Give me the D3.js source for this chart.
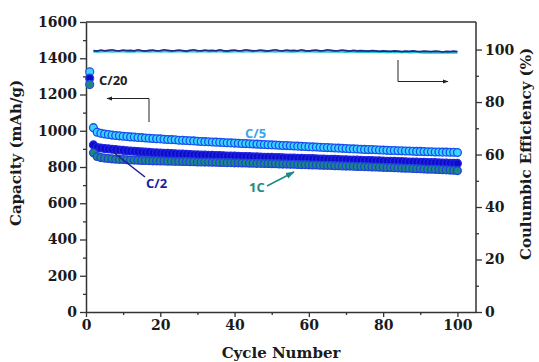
<!DOCTYPE html>
<html>
<head>
<meta charset="utf-8">
<script src="https://cdn.jsdelivr.net/npm/d3@7"></script>
<style>
body { margin: 0; background: #fff; }
.tick text { font-family: "DejaVu Serif", serif; font-weight: bold; }
</style>
</head>
<body>
<script>
// capacity vs cycle number, with coulombic efficiency on a second axis

// C/20 formation cycle (cycle 1), one point per cell
var c20Cycle = 1;
var c20Values = [1325, 1290, 1255];

// capacity (mAh/g) for cycles 2..100
var c5Values = [1017, 992, 986, 982, 979, 976, 974, 972, 970, 968,
    966, 965, 963, 962, 960, 959, 957, 956, 955, 953,
    952, 951, 950, 948, 947, 946, 945, 944, 942, 941,
    940, 939, 938, 937, 936, 935, 934, 933, 932, 931,
    930, 929, 928, 927, 926, 925, 924, 923, 922, 921,
    920, 919, 918, 917, 916, 915, 914, 913, 912, 911,
    910, 909, 908, 907, 906, 905, 904, 903, 902, 901,
    900, 899, 898, 897, 896, 896, 895, 894, 893, 892,
    891, 891, 890, 889, 888, 888, 887, 886, 886, 885,
    884, 884, 883, 883, 882, 882, 881, 881, 880];
var c2Values = [922, 908, 905, 902, 900, 898, 896, 894, 892, 890,
    888, 887, 885, 884, 882, 881, 879, 878, 877, 876,
    875, 874, 873, 872, 871, 870, 869, 868, 867, 866,
    866, 865, 864, 863, 863, 862, 861, 860, 860, 859,
    858, 858, 857, 856, 856, 855, 854, 854, 853, 852,
    852, 851, 850, 850, 849, 848, 848, 847, 846, 846,
    845, 844, 844, 843, 842, 842, 841, 840, 840, 839,
    838, 838, 837, 836, 836, 835, 834, 834, 833, 832,
    832, 831, 830, 830, 829, 828, 828, 827, 826, 826,
    825, 824, 824, 823, 822, 822, 821, 820, 820];
var c1Values = [878, 858, 852, 849, 847, 845, 843, 842, 841, 840,
    839, 838, 837, 836, 836, 835, 834, 834, 833, 833,
    832, 832, 831, 831, 830, 830, 829, 829, 828, 828,
    827, 827, 826, 826, 825, 825, 824, 824, 823, 823,
    822, 822, 821, 821, 820, 820, 819, 819, 818, 818,
    817, 816, 816, 815, 815, 814, 813, 813, 812, 811,
    811, 810, 809, 809, 808, 807, 807, 806, 805, 805,
    804, 803, 803, 802, 801, 800, 800, 799, 798, 797,
    797, 796, 795, 794, 793, 793, 792, 791, 790, 789,
    788, 788, 787, 786, 785, 784, 783, 782, 780];

// coulombic efficiency (%) for cycles 2..100
var ceDark = [99.6, 99.4, 99.8, 99.5, 99.7, 99.9, 99.6, 99.5, 99.8, 99.6,
    99.7, 99.5, 99.9, 99.6, 99.4, 99.7, 99.8, 99.5, 99.6, 99.9,
    99.7, 99.5, 99.6, 99.8, 99.6, 99.4, 99.7, 99.9, 99.6, 99.5,
    99.8, 99.6, 99.7, 99.5, 99.9, 99.6, 99.4, 99.7, 99.8, 99.5,
    99.6, 99.9, 99.7, 99.5, 99.6, 99.8, 99.6, 99.4, 99.7, 99.9,
    99.6, 99.5, 99.8, 99.6, 99.7, 99.5, 99.9, 99.6, 99.4, 99.7,
    99.8, 99.5, 99.6, 99.9, 99.7, 99.5, 99.6, 99.8, 99.6, 99.4,
    99.7, 99.5, 99.6, 99.5, 99.4, 99.6, 99.5, 99.3, 99.5, 99.4,
    99.3, 99.5, 99.4, 99.2, 99.4, 99.3, 99.5, 99.3, 99.2, 99.4,
    99.3, 99.2, 99.4, 99.3, 99.1, 99.3, 99.2, 99.4, 99.2];
var ceLight = [99.2, 99.3, 99.2, 99.4, 99.3, 99.2, 99.3, 99.4, 99.3, 99.2,
    99.3, 99.2, 99.4, 99.3, 99.3, 99.2, 99.3, 99.4, 99.2, 99.3,
    99.3, 99.2, 99.3, 99.4, 99.3, 99.2, 99.3, 99.3, 99.2, 99.4,
    99.3, 99.2, 99.3, 99.3, 99.4, 99.2, 99.3, 99.2, 99.3, 99.4,
    99.2, 99.3, 99.3, 99.2, 99.4, 99.3, 99.2, 99.3, 99.3, 99.2,
    99.3, 99.4, 99.2, 99.3, 99.2, 99.3, 99.3, 99.2, 99.4, 99.3,
    99.2, 99.3, 99.2, 99.3, 99.2, 99.2, 99.3, 99.2, 99.1, 99.2,
    99.2, 99.1, 99.2, 99.1, 99.2, 99.1, 99.1, 99.2, 99.1, 99.0,
    99.1, 99.0, 99.1, 99.0, 99.1, 99.0, 99.0, 99.1, 99.0, 98.9,
    99.0, 98.9, 99.0, 98.9, 99.0, 98.9, 98.9, 99.0, 98.9];

var xTicks = [0, 20, 40, 60, 80, 100];
var yTicks = [0, 200, 400, 600, 800, 1000, 1200, 1400, 1600];
var ceTicks = [0, 20, 40, 60, 80, 100];

var width = 539,
    height = 362;
var margin = {top: 22, right: 63, bottom: 50, left: 86};

var svg = d3.select("body")
    .append("svg")
    .attr("width", width)
    .attr("height", height);

var x = d3.scaleLinear()
    .domain([0, 105])
    .range([margin.left, width - margin.right]);
var y = d3.scaleLinear()
    .domain([0, 1600])
    .range([height - margin.bottom, margin.top]);
var y2 = d3.scaleLinear()
    .domain([0, 110.5])
    .range([height - margin.bottom, margin.top]);

var cycles = d3.range(c5Values.length).map(function(i){ return i + 2; });

//arrow heads
var defs = svg.append("defs");
[["arrBlack", "#222"], ["arrTeal", "#1e8a86"]].forEach(function(a){
    defs.append("marker")
        .attr("id", a[0])
        .attr("viewBox", "0 0 10 10")
        .attr("refX", 9).attr("refY", 5)
        .attr("markerWidth", 6).attr("markerHeight", 6)
        .attr("orient", "auto")
        .append("path")
        .attr("d", "M0,1.5L10,5L0,8.5Z")
        .attr("fill", a[1]);
});

//frame (top edge)
svg.append("line")
    .attr("x1", x(0)).attr("x2", x(105))
    .attr("y1", y(1600)).attr("y2", y(1600))
    .attr("stroke", "#333").attr("stroke-width", 1.5);

//axes
var axisColor = "#333";
var fmt = d3.format("d");
function styleAxis(g){
    g.select(".domain").attr("stroke", axisColor).attr("stroke-width", 1.5);
    g.selectAll(".tick line").attr("stroke", axisColor).attr("stroke-width", 1.3);
    g.selectAll(".tick text").attr("fill", "#1a1a1a").style("font-size", "14px");
}
function minor(g){
    g.select(".domain").remove();
    g.selectAll("line").attr("stroke", axisColor).attr("stroke-width", 1.3);
}

// minor ticks first
svg.append("g")
    .attr("transform", "translate(0," + y(0) + ")")
    .call(d3.axisBottom(x).tickValues([10, 30, 50, 70, 90]).tickSize(3).tickFormat("").tickSizeOuter(0))
    .call(minor);
svg.append("g")
    .attr("transform", "translate(" + x(0) + ",0)")
    .call(d3.axisLeft(y).tickValues([100, 300, 500, 700, 900, 1100, 1300, 1500]).tickSize(3).tickFormat("").tickSizeOuter(0))
    .call(minor);
svg.append("g")
    .attr("transform", "translate(" + x(105) + ",0)")
    .call(d3.axisRight(y2).tickValues([10, 30, 50, 70, 90]).tickSize(3).tickFormat("").tickSizeOuter(0))
    .call(minor);

svg.append("g")
    .attr("transform", "translate(0," + y(0) + ")")
    .call(d3.axisBottom(x).tickValues(xTicks).tickFormat(fmt).tickSize(5).tickPadding(3).tickSizeOuter(0))
    .call(styleAxis);
svg.append("g")
    .attr("transform", "translate(" + x(0) + ",0)")
    .call(d3.axisLeft(y).tickValues(yTicks).tickFormat(fmt).tickSize(6).tickPadding(3).tickSizeOuter(0))
    .call(styleAxis);
svg.append("g")
    .attr("transform", "translate(" + x(105) + ",0)")
    .call(d3.axisRight(y2).tickValues(ceTicks).tickFormat(fmt).tickSize(6).tickPadding(3).tickSizeOuter(0))
    .call(styleAxis)
    .call(function(g){
        g.select(".domain").attr("d", "M0," + y2(0) + "V" + y2(110.5));
    });

//axis titles
var titleFont = "DejaVu Serif";
svg.append("text")
    .attr("transform", "translate(17,153) rotate(-90)")
    .attr("text-anchor", "middle")
    .attr("dominant-baseline", "middle")
    .style("font-family", titleFont).style("font-weight", "bold").style("font-size", "15px")
    .attr("fill", "#1a1a1a")
    .text("Capacity (mAh/g)");
svg.append("text")
    .attr("transform", "translate(527,154) rotate(-90)")
    .attr("text-anchor", "middle")
    .attr("dominant-baseline", "middle")
    .style("font-family", titleFont).style("font-weight", "bold").style("font-size", "15px")
    .attr("fill", "#1a1a1a")
    .text("Coulumbic Efficiency (%)");
svg.append("text")
    .attr("x", 281).attr("y", 358)
    .attr("text-anchor", "middle")
    .style("font-family", titleFont).style("font-weight", "bold").style("font-size", "15px")
    .attr("fill", "#1a1a1a")
    .text("Cycle Number");

//coulombic efficiency lines
var ceLine = d3.line()
    .x(function(d, i){ return x(cycles[i]); })
    .y(function(d){ return y2(d); });
svg.append("path").datum(ceLight)
    .attr("d", ceLine).attr("fill", "none")
    .attr("stroke", "#22c4cc").attr("stroke-width", 2.4);
svg.append("path").datum(ceDark)
    .attr("d", ceLine).attr("fill", "none")
    .attr("stroke", "#1c2a8a").attr("stroke-width", 1.6);

//capacity series
var series = [
    {values: c2Values, fill: "#0c0cc8", stroke: "#2323e6"},
    {values: c1Values, fill: "#1a8a80", stroke: "#2240e0"},
    {values: c5Values, fill: "#38d6fc", stroke: "#1a4cf0"}
];
series.forEach(function(s){
    svg.append("g").selectAll("circle")
        .data(s.values)
        .enter()
        .append("circle")
        .attr("cx", function(d, i){ return x(cycles[i]); })
        .attr("cy", function(d){ return y(d); })
        .attr("r", 3.9)
        .attr("fill", s.fill)
        .attr("stroke", s.stroke)
        .attr("stroke-width", 1.3);
});

//C/20 points
var c20Fill = ["#38d6fc", "#0c0cc8", "#1a8a80"];
svg.append("g").selectAll("circle")
    .data(c20Values)
    .enter()
    .append("circle")
    .attr("cx", x(c20Cycle))
    .attr("cy", function(d){ return y(d); })
    .attr("r", 4)
    .attr("fill", function(d, i){ return c20Fill[i]; })
    .attr("stroke", "#2b50e0")
    .attr("stroke-width", 1.2);

//annotations
var annFont = "Open Sans";
function label(txt, xx, yy, col){
    svg.append("text")
        .attr("x", xx).attr("y", yy)
        .style("font-family", annFont).style("font-weight", "bold").style("font-size", "13px")
        .attr("fill", col)
        .text(txt);
}
label("C/20", 99, 85, "#222");
label("C/5", 245, 138, "#3aa6ee");
label("C/2", 146, 188, "#1c1ca0");
label("1C", 249, 192, "#1e8a86");

// left arrow (capacity axis)
svg.append("path")
    .attr("d", "M149,122V98.5H107")
    .attr("fill", "none").attr("stroke", "#222").attr("stroke-width", 1)
    .attr("marker-end", "url(#arrBlack)");
// right arrow (efficiency axis)
svg.append("path")
    .attr("d", "M398,60V81.5H448")
    .attr("fill", "none").attr("stroke", "#222").attr("stroke-width", 1)
    .attr("marker-end", "url(#arrBlack)");
// C/2 pointer
svg.append("line")
    .attr("x1", 145).attr("y1", 177).attr("x2", 113).attr("y2", 152)
    .attr("stroke", "#1c1c8a").attr("stroke-width", 1.5);
// 1C pointer
svg.append("line")
    .attr("x1", 267).attr("y1", 186).attr("x2", 294).attr("y2", 172)
    .attr("stroke", "#1e8a86").attr("stroke-width", 1.5)
    .attr("marker-end", "url(#arrTeal)");
</script>
</body>
</html>
